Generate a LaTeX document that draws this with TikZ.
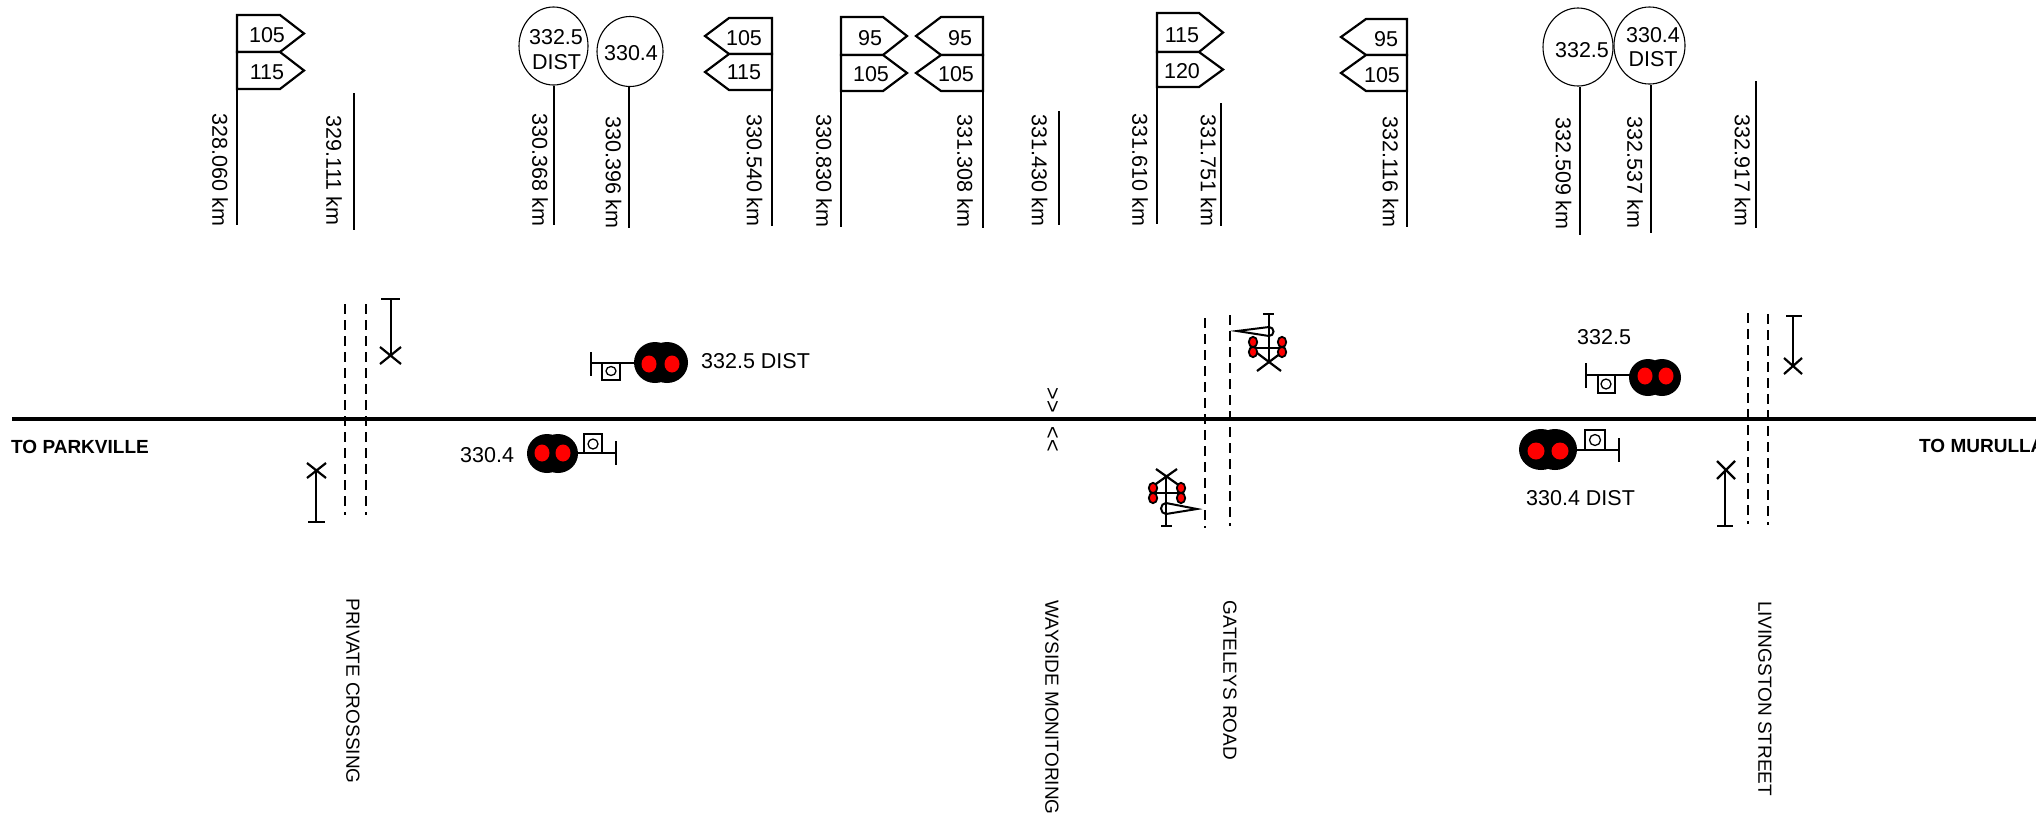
\documentclass[tikz,border=0pt]{standalone}
\usepackage{fontspec}
\setmainfont{Liberation Sans}
\usetikzlibrary{shapes.geometric}
\newcommand{\fa}{\fontsize{21.5}{25}\selectfont}
\newcommand{\fb}{\fontsize{19}{23}\selectfont}
\newcommand{\fc}{\fontsize{19}{23}\selectfont}
\tikzset{
  km/.style={font=\fa,rotate=-90,inner sep=0pt},
  road/.style={font=\fb,rotate=-90,inner sep=0pt},
  lab/.style={font=\fa,inner sep=0pt},
  dirlab/.style={font=\fc\bfseries,inner sep=0pt,anchor=west},
  post/.style={line width=2.4pt},
  thinpost/.style={line width=1.8pt},
  flagbox/.style={line width=2.2pt,line join=miter,fill=white},
  disc/.style={draw,ellipse,line width=1.1pt,inner sep=0pt},
  track/.style={line width=4.8pt},
  roadedge/.style={line width=1.7pt,dash pattern=on 10pt off 6pt},
  xmark/.style={line width=2.2pt},
  tstem/.style={line width=2pt},
  lobe/.style={fill=black,draw=none},
  lamp/.style={fill=red,draw=none},
  smalllamp/.style={fill=red,draw=black,line width=1.8pt},
  arm/.style={line width=1.3pt},
  gate/.style={line width=2.2pt,line cap=butt},
  pennant/.style={line width=2pt,line join=miter}
}
% flag: pole x, top, bottom, shoulder x, tip x
\newcommand{\rflag}[5]{\draw[flagbox] (#1,#2) -- (#4,#2) -- (#5,{(#2+#3)/2}) -- (#4,#3) -- (#1,#3) -- cycle;}
\begin{document}
\begin{tikzpicture}[x=1pt,y=-1pt]
\useasboundingbox[fill=white] (0,0) rectangle (2036,815);

% ---------- track
\coordinate (trackL) at (12,419);
\coordinate (trackR) at (2036,419);
\draw[track] (trackL) -- (trackR);
\node[dirlab] (toPark) at (11,447) {TO PARKVILLE};
\node[dirlab] (toMur) at (1919,446) {TO MURULLA};

% ---------- flag posts
\coordinate (p1a) at (237,15); \coordinate (p1b) at (237,225);
\draw[thinpost] (p1a) -- (p1b);
\rflag{237}{15}{52}{280}{304}
\rflag{237}{52}{89}{280}{304}
\node[lab] (f1a) at (267,35) {105};
\node[lab] (f1b) at (267,72) {115};
\node[km] (k1) at (220,170) {328.060 km};

\coordinate (p2a) at (354,93); \coordinate (p2b) at (354,230);
\draw[thinpost] (p2a) -- (p2b);
\node[km] (k2) at (334,170.5) {329.111 km};

\coordinate (p3b) at (554,225);
\node[disc,minimum width=69pt,minimum height=78pt] (c3) at (553.5,46) {};
\draw[post] (c3.south -| p3b) -- (p3b);
\node[lab] (c3a) at (556,37) {332.5};
\node[lab] (c3b) at (556.5,62) {DIST};
\node[km] (k3) at (540,170) {330.368 km};

\coordinate (p4b) at (629,228);
\node[disc,minimum width=66pt,minimum height=70pt] (c4) at (630,51.5) {};
\draw[post] (c4.south -| p4b) -- (p4b);
\node[lab] (c4a) at (631,53) {330.4};
\node[km] (k4) at (613.5,172.5) {330.396 km};

\coordinate (p5a) at (772,18); \coordinate (p5b) at (772,226);
\draw[thinpost] (p5a) -- (p5b);
\rflag{772}{18}{54}{729}{705}
\rflag{772}{54}{90}{729}{705}
\node[lab] (f5a) at (744,38) {105};
\node[lab] (f5b) at (744,72) {115};
\node[km] (k5) at (754.5,170.5) {330.540 km};

\coordinate (p6a) at (841,17); \coordinate (p6b) at (841,227);
\draw[thinpost] (p6a) -- (p6b);
\rflag{841}{17}{55}{883}{907}
\rflag{841}{55}{91}{883}{907}
\node[lab] (f6a) at (870,38) {95};
\node[lab] (f6b) at (871,74) {105};
\node[km] (k6) at (824,171) {330.830 km};

\coordinate (p7a) at (983,17); \coordinate (p7b) at (983,228);
\draw[thinpost] (p7a) -- (p7b);
\rflag{983}{17}{55}{941}{916}
\rflag{983}{55}{91}{941}{916}
\node[lab] (f7a) at (960,38) {95};
\node[lab] (f7b) at (956,74) {105};
\node[km] (k7) at (965,171) {331.308 km};

\coordinate (p8a) at (1059,111); \coordinate (p8b) at (1059,225);
\draw[post] (p8a) -- (p8b);
\node[km] (k8) at (1039.5,170.5) {331.430 km};

\coordinate (p9a) at (1157,13); \coordinate (p9b) at (1157,224);
\draw[post] (p9a) -- (p9b);
\rflag{1157}{13}{52}{1199}{1223}
\rflag{1157}{52}{87}{1199}{1223}
\node[lab] (f9a) at (1182,35) {115};
\node[lab] (f9b) at (1182,71) {120};
\node[km] (k9) at (1140,170) {331.610 km};

\coordinate (p10a) at (1221,103); \coordinate (p10b) at (1221,226);
\draw[post] (p10a) -- (p10b);
\node[km] (k10) at (1208.5,170.5) {331.751 km};

\coordinate (p11a) at (1407,19); \coordinate (p11b) at (1407,227);
\draw[thinpost] (p11a) -- (p11b);
\rflag{1407}{19}{55}{1366}{1341}
\rflag{1407}{55}{91}{1366}{1341}
\node[lab] (f11a) at (1386,39) {95};
\node[lab] (f11b) at (1382,75) {105};
\node[km] (k11) at (1390.5,172) {332.116 km};

\coordinate (p12b) at (1580,235);
\node[disc,minimum width=70pt,minimum height=78pt] (c12) at (1578,47) {};
\draw[post] (c12.south -| p12b) -- (p12b);
\node[lab] (c12a) at (1582,50) {332.5};
\node[km] (k12) at (1563.5,173.5) {332.509 km};

\coordinate (p13b) at (1651,233);
\node[disc,minimum width=71pt,minimum height=77pt] (c13) at (1649.5,45.5) {};
\draw[post] (c13.south -| p13b) -- (p13b);
\node[lab] (c13a) at (1653,35) {330.4};
\node[lab] (c13b) at (1653,59) {DIST};
\node[km] (k13) at (1635,172.5) {332.537 km};

\coordinate (p14a) at (1756,81); \coordinate (p14b) at (1756,228);
\draw[post] (p14a) -- (p14b);
\node[km] (k14) at (1742.5,170.5) {332.917 km};

% ---------- level crossings
\draw[roadedge] (345,304) -- (345,515);
\draw[roadedge] (366,304) -- (366,515);
\draw[roadedge] (1205,318) -- (1205,528);
\draw[roadedge] (1230,315) -- (1230,526);
\draw[roadedge] (1748,313) -- (1748,524);
\draw[roadedge] (1768,314) -- (1768,525);

\node[road] (rPriv) at (353,691) {PRIVATE CROSSING};
\node[road] (rWay) at (1052,707.5) {WAYSIDE MONITORING};
\node[road] (rGate) at (1230,680.5) {GATELEYS ROAD};
\node[road] (rLiv) at (1765,698.5) {LIVINGSTON STREET};

% ---------- crossing signs
\draw[tstem] (381,299) -- (400,299) (391,299) -- (391,356);
\draw[xmark] (380,347) -- (401,364) (401,347) -- (380,364);
\draw[tstem] (308,522) -- (325,522) (316,522) -- (316,471);
\draw[xmark] (307,463) -- (326,478) (326,463) -- (307,478);
\draw[tstem] (1786,316) -- (1802,316) (1793,316) -- (1793,366);
\draw[xmark] (1784,358) -- (1802,374) (1802,358) -- (1784,374);
\draw[tstem] (1717,526) -- (1733,526) (1725,526) -- (1725,470);
\draw[xmark] (1717,461) -- (1735,479) (1735,461) -- (1717,479);

% ---------- wayside marks
\node[km] (w1) at (1052,400.5) {>{}>};
\node[km] (w2) at (1052,439) {<{}<};

% ---------- colour light signals
% 332.5 DIST
\draw[arm] (591,352) -- (591,376) (591,363) -- (640,363);
\draw[arm] (602,363) rectangle (620,380);
\draw[arm] (611,371) circle [x radius=5,y radius=4.5];
\fill[lobe] (655,362.5) ellipse [x radius=21,y radius=20.5] (667,362.5) ellipse [x radius=21,y radius=20.5];
\fill[lamp] (649,364) ellipse [x radius=7.5,y radius=8.5] (672,364) ellipse [x radius=7.5,y radius=8.5];
\node[lab,anchor=west] (s1) at (701,361) {332.5 DIST};

% 330.4
\draw[arm] (616,441) -- (616,465) (616,453) -- (570,453);
\draw[arm] (584,434) rectangle (602,453);
\draw[arm] (593,444) circle [radius=5];
\fill[lobe] (547,453.5) ellipse [x radius=20,y radius=19.5] (558,453.5) ellipse [x radius=20,y radius=19.5];
\fill[lamp] (542,453) ellipse [x radius=7.5,y radius=8.5] (563,453) ellipse [x radius=7.5,y radius=8.5];
\node[lab,anchor=west] (s2) at (460,455) {330.4};

% 332.5
\draw[arm] (1586,363) -- (1586,388) (1586,375) -- (1640,375);
\draw[arm] (1598,375) rectangle (1615,393);
\draw[arm] (1606,384) circle [radius=5];
\fill[lobe] (1648,377.5) ellipse [x radius=19,y radius=18.5] (1662,377.5) ellipse [x radius=19,y radius=18.5];
\fill[lamp] (1645,376) ellipse [x radius=7.5,y radius=8.5] (1666,376) ellipse [x radius=7.5,y radius=8.5];
\node[lab,anchor=west] (s3) at (1577,337) {332.5};

% 330.4 DIST
\draw[arm] (1619,438) -- (1619,462) (1619,450) -- (1565,450);
\draw[arm] (1585,430) rectangle (1605,450);
\draw[arm] (1595,440) circle [radius=5.5];
\fill[lobe] (1541,449.5) ellipse [x radius=22,y radius=20.5] (1555,449.5) ellipse [x radius=22,y radius=20.5];
\fill[lamp] (1536,451) ellipse [radius=8.5] (1560,451) ellipse [radius=8.5];
\node[lab,anchor=west] (s4) at (1526,498) {330.4 DIST};

% ---------- boom gates, upper
\draw[gate] (1263,314) -- (1274,314) (1269,314) -- (1269,362);
\draw[gate] (1257,371) -- (1281,353) (1281,371) -- (1257,353);
\draw[gate] (1253,348) -- (1282,348);
\draw[pennant] (1237,331) -- (1269,327) arc [start angle=-90,end angle=90,x radius=4.5,y radius=4.5] -- cycle;
\draw[smalllamp] (1253,342) ellipse [x radius=4.2,y radius=5.2] (1253,352) ellipse [x radius=4.2,y radius=5.2]
  (1282,342) ellipse [x radius=4.2,y radius=5.2] (1282,352) ellipse [x radius=4.2,y radius=5.2];

% ---------- boom gates, lower
\draw[gate] (1161,526) -- (1172,526) (1166,526) -- (1166,477);
\draw[gate] (1156,469) -- (1180,486) (1177,469) -- (1153,486);
\draw[gate] (1153,493) -- (1182,493);
\draw[pennant] (1197,509) -- (1166,503) arc [start angle=-90,end angle=-270,x radius=5,y radius=5.5] -- cycle;
\draw[smalllamp] (1153,488) ellipse [x radius=4.2,y radius=5.2] (1153,498) ellipse [x radius=4.2,y radius=5.2]
  (1181,488) ellipse [x radius=4.2,y radius=5.2] (1181,498) ellipse [x radius=4.2,y radius=5.2];
\end{tikzpicture}
\end{document}
